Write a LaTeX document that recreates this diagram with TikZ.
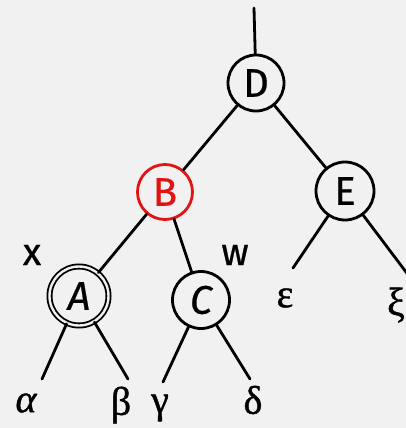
\documentclass[tikz,border=0pt]{standalone}
\usepackage{fontspec}
\setmainfont{Fira Sans}[FakeBold=0.6]
\newfontfamily\greekfont{Liberation Serif}[FakeBold=1]
\definecolor{paper}{RGB}{241,241,241}
\definecolor{hot}{RGB}{225,20,20}
\begin{document}
\begin{tikzpicture}[x=1pt,y=-1pt,
  edge/.style={line width=2.8pt, line cap=round},
  vtx/.style={circle, draw, line width=2.8pt, minimum size=56pt, inner sep=0pt,
              font=\fontsize{40}{40}\selectfont},
  dbl/.style={circle, draw, line width=1.8pt, double=paper, double distance=2.4pt,
              minimum size=59pt, inner sep=0pt, font=\fontsize{40}{40}\selectfont\itshape},
  tag/.style={font=\fontsize{38}{38}\selectfont, inner sep=0pt},
  leaf/.style={font=\fontsize{40}{40}\selectfont\greekfont, inner sep=0pt}
]
\fill[paper] (0,0) rectangle (406,428);
\useasboundingbox (0,0) rectangle (406,428);

% tree nodes
\node[vtx] (D) at (256,83) {D};
\node[vtx, draw=hot, text=hot, minimum size=55pt] (B) at (165,192) {B};
\node[vtx, minimum size=58pt] (E) at (345,191) {E};
\node[dbl] (A) at (79,296) {A};
\node[vtx, minimum size=57pt, font=\fontsize{40}{40}\selectfont\itshape] (C) at (201,300) {C};

% free ends of the subtree stubs
\coordinate (top) at (254,8);
\coordinate (a1) at (42,379);
\coordinate (a2) at (128,379);
\coordinate (c1) at (163,382);
\coordinate (c2) at (250,379);
\coordinate (e1) at (293,268);
\coordinate (e2) at (412,280);

\draw[edge] (top) -- (D);
\draw[edge] (D) -- (B);
\draw[edge] (D) -- (E);
\draw[edge] (B) -- (A);
\draw[edge] (B) -- (C);
\draw[edge] (A) -- (a1);
\draw[edge] (A) -- (a2);
\draw[edge] (C) -- (c1);
\draw[edge] (C) -- (c2);
\draw[edge] (E) -- (e1);
\draw[edge] (E) -- (e2);

% labels
\node[tag] (lx) at (32,255) {x};
\node[tag] (lw) at (235,255) {w};
\node[leaf] (alpha) at (26,403) {\itshape α};
\node[leaf] (beta) at (121,405) {β};
\node[leaf] (gamma) at (160,408) {γ};
\node[leaf] (delta) at (253,400) {δ};
\node[leaf] (eps) at (285,298) {ε};
\node[leaf] (xi) at (396,305) {ξ};
\end{tikzpicture}
\end{document}
